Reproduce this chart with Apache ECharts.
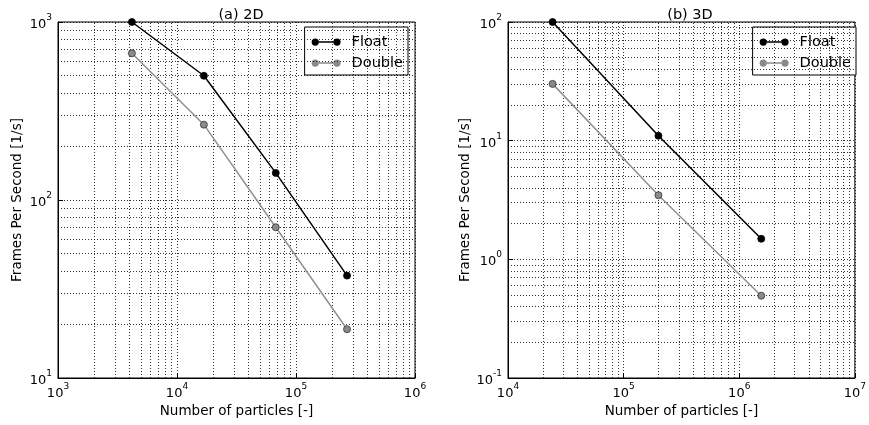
<!DOCTYPE html>
<html>
<head>
<meta charset="UTF-8">
<title>Frames Per Second</title>
<script src="https://cdn.jsdelivr.net/npm/echarts@6/dist/echarts.min.js"></script>
<style>
    html, body { margin: 0; padding: 0; background: #fff; }
    #chart { width: 869px; height: 425px; }
</style>
</head>
<body>
<div id="chart"></div>
<script>
    // values
    var particles2D = [4180, 16830, 67600, 268500];
    var float2D = [1000, 499, 142, 37.6];
    var double2D = [667, 265, 70.3, 18.8];
    var particles3D = [24300, 200000, 1550000];
    var float3D = [100, 11, 1.49];
    var double3D = [30.1, 3.47, 0.494];
    var titles = ['(a) 2D', '(b) 3D'];
    var seriesNames = ['Float', 'Double'];
    var xName = 'Number of particles [-]';
    var yName = 'Frames Per Second [1/s]';

    var font = 'DejaVu Sans';
    var dots = [1, 2];

    function pair(xs, ys) {
        var out = [];
        for (var i = 0; i < xs.length; i++) out.push([xs[i], ys[i]]);
        return out;
    }
    // 2..9 x 10^e lines between decades
    function minors(e0, e1) {
        var out = [];
        for (var e = e0; e < e1; e++) {
            for (var k = 2; k <= 9; k++) out.push(k * Math.pow(10, e));
        }
        return out;
    }
    function gridLines(xs, ys) {
        var d = [];
        xs.forEach(function (v) { d.push({xAxis: v}); });
        ys.forEach(function (v) { d.push({yAxis: v}); });
        return {
            silent: true,
            symbol: 'none',
            label: {show: false},
            animation: false,
            lineStyle: {color: '#000', width: 1, type: dots, opacity: 0.8},
            emphasis: {disabled: true},
            data: d
        };
    }
    function pow10(v) {
        var e = Math.round(Math.log(v) / Math.LN10);
        return '{b|10}{s|' + e + '}';
    }
    var rich = {
        b: {fontSize: 13, fontFamily: font, color: '#000', lineHeight: 18, verticalAlign: 'bottom'},
        s: {fontSize: 9, fontFamily: font, color: '#000', lineHeight: 18, verticalAlign: 'top'}
    };
    var nameStyle = {fontSize: 13.5, fontFamily: font, color: '#000'};

    function xAxisOf(idx, min, max) {
        return {
            type: 'log', logBase: 10, gridIndex: idx, min: min, max: max,
            name: xName, nameLocation: 'middle', nameGap: 26,
            nameTextStyle: nameStyle,
            axisLine: {lineStyle: {color: '#000', width: 1}},
            axisTick: {inside: true, length: 5, lineStyle: {color: '#000'}},
            axisLabel: {formatter: pow10, rich: rich, margin: 4, showMaxLabel: true},
            splitLine: {show: true, lineStyle: {color: '#000', width: 1, type: dots, opacity: 0.8}}
        };
    }
    function yAxisOf(idx, min, max, gap) {
        return {
            type: 'log', logBase: 10, gridIndex: idx, min: min, max: max,
            name: yName, nameLocation: 'middle', nameGap: gap, nameRotate: 90,
            nameTextStyle: nameStyle,
            axisLine: {lineStyle: {color: '#000', width: 1}},
            axisTick: {inside: true, length: 5, lineStyle: {color: '#000'}},
            axisLabel: {formatter: pow10, rich: rich, margin: 6},
            splitLine: {show: true, lineStyle: {color: '#000', width: 1, type: dots, opacity: 0.8}}
        };
    }

    var floatStyle = {
        type: 'line', symbol: 'circle', symbolSize: 7,
        lineStyle: {color: '#000', width: 1.5},
        itemStyle: {color: '#000', borderColor: '#000', borderWidth: 0.8}
    };
    var doubleStyle = {
        type: 'line', symbol: 'circle', symbolSize: 7,
        lineStyle: {color: '#909090', width: 1.5},
        itemStyle: {color: '#8a8a8a', borderColor: '#333', borderWidth: 0.8}
    };
    function mk(base, name, xi, data, extra) {
        var s = Object.assign({}, base, {name: name, xAxisIndex: xi, yAxisIndex: xi, data: data, animation: false, z: 5});
        if (extra) s.markLine = extra;
        return s;
    }

    var legendIcon = 'path://M0.5,4a3.5,3.5 0 1,0 7,0a3.5,3.5 0 1,0 -7,0ZM7.5,3.2h14v1.6h-14ZM21.5,4a3.5,3.5 0 1,0 7,0a3.5,3.5 0 1,0 -7,0Z';
    function legendOf(right) {
        return {
            data: seriesNames, orient: 'vertical', right: right, top: 27,
            icon: legendIcon, itemWidth: 29, itemHeight: 8, itemGap: 5,
            padding: [7, 5, 4, 7],
            itemStyle: {borderWidth: 0},
            backgroundColor: '#fff', borderColor: '#000', borderWidth: 1,
            textStyle: {fontSize: 14.5, lineHeight: 16, fontFamily: font, color: '#000', padding: [0, 0, 0, 6]},
            selectedMode: false
        };
    }

    var titleStyle = {fontSize: 14.5, fontWeight: 'normal', fontFamily: font, color: '#000'};
    var chart = echarts.init(document.getElementById('chart'));
    chart.setOption({
        backgroundColor: '#fff',
        textStyle: {fontFamily: font},
        title: [
            {text: titles[0], left: 236, top: 3, textAlign: 'center', textStyle: titleStyle},
            {text: titles[1], left: 685, top: 3, textAlign: 'center', textStyle: titleStyle}
        ],
        legend: [legendOf(461), legendOf(13)],
        grid: [
            {left: 58, right: 454, top: 22, bottom: 47, show: true, borderColor: '#000', borderWidth: 1, backgroundColor: '#fff'},
            {left: 508, right: 6, top: 22, bottom: 47, show: true, borderColor: '#000', borderWidth: 1, backgroundColor: '#fff'}
        ],
        xAxis: [xAxisOf(0, 1e3, 1e6), xAxisOf(1, 1e4, 1e7)],
        yAxis: [yAxisOf(0, 10, 1000, 34), yAxisOf(1, 0.1, 100, 36)],
        series: [
            mk(floatStyle, seriesNames[0], 0, pair(particles2D, float2D), gridLines(minors(3, 6), minors(1, 3))),
            mk(doubleStyle, seriesNames[1], 0, pair(particles2D, double2D)),
            mk(floatStyle, seriesNames[0], 1, pair(particles3D, float3D), gridLines(minors(4, 7), minors(-1, 2))),
            mk(doubleStyle, seriesNames[1], 1, pair(particles3D, double3D))
        ]
    });
</script>
</body>
</html>
